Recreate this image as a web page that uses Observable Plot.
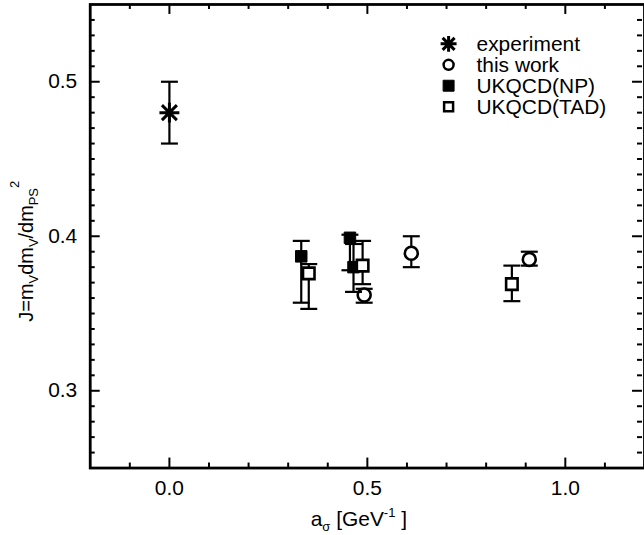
<!DOCTYPE html>
<html><head><meta charset="utf-8">
<script src="https://cdn.jsdelivr.net/npm/d3@7"></script>
<script src="https://cdn.jsdelivr.net/npm/@observablehq/plot@0.6"></script>
<style>
html,body{margin:0;padding:0;background:#fff;overflow:hidden;}
#chart{width:644px;height:535px;overflow:hidden;position:relative;}
#chart svg{position:absolute;left:0;top:0;}
</style></head><body><div id="chart"></div>
<script>
// ---- data ----
const seriesNames = ["experiment", "this work", "UKQCD(NP)", "UKQCD(TAD)"];
const expX = [0.0], expY = [0.48], expLo = [0.46], expHi = [0.50];
const workX = [0.492, 0.611, 0.909], workY = [0.362, 0.389, 0.385], workLo = [0.357, 0.380, 0.381], workHi = [0.366, 0.400, 0.390];
const npX = [0.333, 0.456, 0.465], npY = [0.387, 0.399, 0.380], npLo = [0.357, 0.378, 0.364], npHi = [0.397, 0.401, 0.395];
const tadX = [0.352, 0.488, 0.865], tadY = [0.376, 0.381, 0.369], tadLo = [0.353, 0.369, 0.358], tadHi = [0.382, 0.397, 0.381];
const xMajor = [0.0, 0.5, 1.0];
const xMinor = [-0.1, 0.1, 0.2, 0.3, 0.4, 0.6, 0.7, 0.8, 0.9, 1.1];
const yMajor = [0.3, 0.4, 0.5];
const yMinor = d3.range(26, 55).filter(v => v % 10 !== 0).map(v => v / 100);

function rows(name, X, Y, Lo, Hi) {
  return X.map((x, i) => ({series: name, x, y: Y[i], lo: Lo[i], hi: Hi[i]}));
}
const exp = rows(seriesNames[0], expX, expY, expLo, expHi);
const work = rows(seriesNames[1], workX, workY, workLo, workHi);
const np = rows(seriesNames[2], npX, npY, npLo, npHi);
const tad = rows(seriesNames[3], tadX, tadY, tadLo, tadHi);

// ---- custom symbols ----
const capSymbol = {draw(ctx, size) { const r = Math.sqrt(size / Math.PI); ctx.moveTo(-r, 0); ctx.lineTo(r, 0); }};
const starSymbol = {draw(ctx, size) {
  const r = Math.sqrt(size / Math.PI), d = r * 0.75;
  ctx.moveTo(-r, 0); ctx.lineTo(r, 0);
  ctx.moveTo(0, -r); ctx.lineTo(0, r);
  ctx.moveTo(-d, -d); ctx.lineTo(d, d);
  ctx.moveTo(-d, d); ctx.lineTo(d, -d);
}};

function errMarks(data) {
  return [
    Plot.ruleX(data, {x: "x", y1: "lo", y2: "hi", stroke: "black", strokeWidth: 2.2}),
    Plot.dot(data, {x: "x", y: "lo", symbol: capSymbol, r: 8.5, stroke: "black", strokeWidth: 2.2}),
    Plot.dot(data, {x: "x", y: "hi", symbol: capSymbol, r: 8.5, stroke: "black", strokeWidth: 2.2})
  ];
}

const font = "'Liberation Sans', Arial, Helvetica, sans-serif";
const W = 646, H = 535, mL = 90, mR = 0, mT = 4, mB = 66;
const innerW = W - mL - mR, innerH = H - mT - mB;
const major = 10, minor = 5;
const tickStroke = {stroke: "black", strokeWidth: 2};

const chart = Plot.plot({
  width: W, height: H,
  marginLeft: mL, marginRight: mR, marginTop: mT, marginBottom: mB,
  style: {fontFamily: font, background: "white", color: "black", overflow: "visible"},
  x: {domain: [-0.2, 1.2]},
  y: {domain: [0.25, 0.55]},
  marks: [
    // inward ticks on all four sides
    Plot.tickX(xMajor, {x: d => d, insetTop: innerH - major, ...tickStroke}),
    Plot.tickX(xMinor, {x: d => d, insetTop: innerH - minor, ...tickStroke}),
    Plot.tickX(xMajor, {x: d => d, insetBottom: innerH - major, ...tickStroke}),
    Plot.tickX(xMinor, {x: d => d, insetBottom: innerH - minor, ...tickStroke}),
    Plot.tickY(yMajor, {y: d => d, insetRight: innerW - major, ...tickStroke}),
    Plot.tickY(yMinor, {y: d => d, insetRight: innerW - minor, ...tickStroke}),
    Plot.tickY(yMajor, {y: d => d, insetLeft: innerW - major - 2, insetRight: 2, ...tickStroke}),
    Plot.tickY(yMinor, {y: d => d, insetLeft: innerW - minor - 2, insetRight: 2, ...tickStroke}),
    // tick labels
    Plot.axisX(xMajor, {anchor: "bottom", tickSize: 0, tickPadding: 12, tickFormat: d3.format(".1f"), fontSize: 21, label: null}),
    Plot.axisY(yMajor, {anchor: "left", tickSize: 0, tickPadding: 13, tickFormat: d3.format(".1f"), fontSize: 21, label: null}),
    // data
    ...errMarks(exp),
    Plot.dot(exp, {x: "x", y: "y", symbol: starSymbol, r: 10, stroke: "black", strokeWidth: 3}),
    ...errMarks(work),
    Plot.dot(work, {x: "x", y: "y", r: 6.5, stroke: "black", fill: "white", strokeWidth: 2.6}),
    ...errMarks(np),
    Plot.dot(np, {x: "x", y: "y", symbol: "square", r: 6.5, stroke: "black", fill: "black", strokeWidth: 1}),
    ...errMarks(tad),
    Plot.dot(tad, {x: "x", y: "y", symbol: "square", r: 6.5, stroke: "black", fill: "white", strokeWidth: 2.6}),
    Plot.frame({stroke: "black", strokeWidth: 2.8})
  ]
});
document.getElementById("chart").appendChild(chart);

// ---- axis titles & legend ----
const svg = d3.select(chart);
const xt = svg.append("text").attr("x", 360).attr("y", 528).attr("text-anchor", "middle")
  .attr("font-size", 21).attr("font-family", font).attr("fill", "black");
xt.append("tspan").text("a");
xt.append("tspan").attr("font-size", 13).attr("dy", 5).text("σ");
xt.append("tspan").attr("dy", -5).text(" [GeV");
xt.append("tspan").attr("font-size", 13).attr("dy", -9).text("-1");
xt.append("tspan").attr("dy", 9).text(" ]");

const yt = svg.append("text").attr("transform", "translate(33,252) rotate(-90)").attr("text-anchor", "middle")
  .attr("font-size", 20).attr("font-family", font).attr("fill", "black");
yt.append("tspan").text("J=m");
yt.append("tspan").attr("font-size", 13).attr("dy", 5).text("V");
yt.append("tspan").attr("dy", -5).text("dm");
yt.append("tspan").attr("font-size", 13).attr("dy", 5).text("V");
yt.append("tspan").attr("dy", -5).text("/dm");
yt.append("tspan").attr("font-size", 13).attr("dy", 5).text("PS");
yt.append("tspan").attr("font-size", 13).attr("dy", -19).text("2");

const legendSymbols = [
  {sym: starSymbol, size: Math.PI * 8 * 8, fill: "none", sw: 3},
  {sym: d3.symbolCircle, size: Math.PI * 5 * 5, fill: "white", sw: 2.5},
  {sym: d3.symbolSquare, size: 11 * 11, fill: "black", sw: 1},
  {sym: d3.symbolSquare, size: 9 * 9, fill: "white", sw: 2.5}
];
const lg = svg.append("g").attr("font-family", font).attr("font-size", 21).attr("text-anchor", "start");
seriesNames.forEach((name, i) => {
  const g = lg.append("g").attr("transform", `translate(450,${44 + 21 * i})`);
  const s = legendSymbols[i];
  g.append("path").attr("d", d3.symbol(s.sym, s.size)()).attr("fill", s.fill).attr("stroke", "black").attr("stroke-width", s.sw);
  g.append("text").attr("x", 28).attr("dy", "0.35em").attr("fill", "black").attr("text-anchor", "start").text(name);
});
</script>
</body></html>
